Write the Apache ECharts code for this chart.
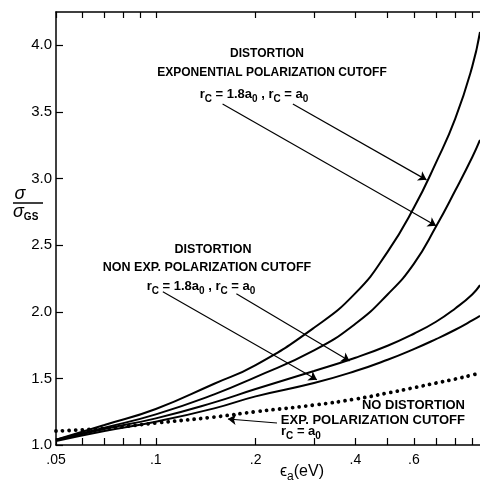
<!DOCTYPE html>
<html>
<head>
<meta charset="utf-8">
<script src="https://cdn.jsdelivr.net/npm/echarts@6/dist/echarts.min.js"></script>
<style>
  html, body { margin: 0; padding: 0; background: #fff; }
  #chart { width: 480px; height: 483px; }
</style>
</head>
<body>
<div id="chart"></div>
<script>
// photon energy (eV), log axis
const energy = [0.05, 0.07, 0.1, 0.15, 0.2, 0.3, 0.4, 0.5, 0.6, 0.7, 0.8, 0.9, 0.95];

// sigma / sigma_GS
const distExpA0 = [1.04, 1.15, 1.27, 1.46, 1.60, 1.88, 2.14, 2.45, 2.78, 3.12, 3.45, 3.84, 4.10];
const distExp18 = [1.04, 1.13, 1.23, 1.38, 1.51, 1.71, 1.91, 2.13, 2.36, 2.64, 2.91, 3.16, 3.29];
const distNonExpA0 = [1.035, 1.12, 1.20, 1.32, 1.42, 1.555, 1.655, 1.745, 1.835, 1.925, 2.025, 2.13, 2.20];
const distNonExp18 = [1.03, 1.105, 1.175, 1.275, 1.365, 1.465, 1.555, 1.64, 1.72, 1.795, 1.865, 1.935, 1.97];
const noDistExpA0 = [1.105, 1.125, 1.165, 1.21, 1.25, 1.30, 1.345, 1.39, 1.43, 1.465, 1.495, 1.525, 1.54];

const xLabelTicks = [0.05, 0.1, 0.2, 0.4, 0.6];
const xMinorTicks = [0.05, 0.06, 0.07, 0.08, 0.09, 0.1, 0.2, 0.3, 0.4, 0.5, 0.6, 0.7, 0.8, 0.9];
const yTicks = [1.0, 1.5, 2.0, 2.5, 3.0, 3.5, 4.0];

// arrows: [fromE, fromY, toE, toY]
const arrowExp18 = [0.159, 3.56, 0.70, 2.645];
const arrowExpA0 = [0.259, 3.56, 0.655, 2.99];
const arrowNonExp18 = [0.105, 2.15, 0.306, 1.49];
const arrowNonExpA0 = [0.175, 2.135, 0.384, 1.63];
const arrowNoDist = [0.232, 1.165, 0.165, 1.195];

const FONT = '"Liberation Sans", Arial, sans-serif';
const lg = Math.log10;
const toPts = ys => energy.map((e, i) => [lg(e), ys[i]]);

function arrow(a) {
  return {
    silent: true,
    symbol: ['none', 'arrow'],
    symbolSize: 8,
    label: { show: false },
    lineStyle: { color: '#000', width: 1.2, type: 'solid' },
    data: [[{ coord: [lg(a[0]), a[1]] }, { coord: [lg(a[2]), a[3]] }]],
  };
}

function solid(name, ys, a) {
  return {
    name, type: 'line', data: toPts(ys), smooth: 0.5,
    showSymbol: false, silent: true,
    lineStyle: { color: '#000', width: 2 },
    markLine: arrow(a),
  };
}

// subscript: the top padding pushes the small text down
function subStyle(size, bold) {
  return { fontSize: size, fontFamily: FONT, fontWeight: bold ? 'bold' : 'normal', padding: [10, 0, 0, 0], fill: '#000' };
}

function label(text, x, y, size, align) {
  size = size || 12;
  return {
    type: 'text', x, y, silent: true,
    style: {
      text, fill: '#000', fontSize: size, fontFamily: FONT, fontWeight: 'bold',
      align: align || 'center', textAlign: align || 'center',
      verticalAlign: 'middle', textVerticalAlign: 'middle',
      rich: { s: subStyle(size - 3, true) },
    },
  };
}

const axisLine = { show: true, onZero: false, lineStyle: { color: '#000', width: 1.5 } };
const xMin = lg(0.05), xMax = lg(0.95);
const xTickVals = xMinorTicks.map(lg);

const chart = echarts.init(document.getElementById('chart'));
chart.setOption({
  animation: false,
  backgroundColor: '#fff',
  grid: { left: 56, right: 0, top: 12, bottom: 38 },
  xAxis: [
    {
      type: 'value', min: xMin, max: xMax, position: 'bottom',
      axisLine,
      axisTick: { inside: true, length: 7, customValues: xTickVals, lineStyle: { color: '#000', width: 1.2 } },
      axisLabel: {
        customValues: xLabelTicks.map(lg), margin: 8,
        color: '#000', fontSize: 14, fontFamily: FONT,
        formatter: v => String(+Math.pow(10, v).toPrecision(3)).replace(/^0/, ''),
      },
      splitLine: { show: false },
    },
    {
      type: 'value', min: xMin, max: xMax, position: 'top',
      axisLine,
      axisTick: { inside: true, length: 6, customValues: xTickVals, lineStyle: { color: '#000', width: 1.2 } },
      axisLabel: { show: false },
      splitLine: { show: false },
    },
  ],
  yAxis: {
    type: 'value', min: 1, max: 4.25,
    axisLine,
    axisTick: { inside: true, length: 7, customValues: yTicks, lineStyle: { color: '#000', width: 1.2 } },
    axisLabel: {
      customValues: yTicks, margin: 4,
      color: '#000', fontSize: 15, fontFamily: FONT,
      formatter: v => v.toFixed(1),
    },
    splitLine: { show: false },
  },
  series: [
    solid('distExpA0', distExpA0, arrowExpA0),
    solid('distExp18', distExp18, arrowExp18),
    solid('distNonExpA0', distNonExpA0, arrowNonExpA0),
    solid('distNonExp18', distNonExp18, arrowNonExp18),
    {
      name: 'noDistExpA0', type: 'line', data: toPts(noDistExpA0), smooth: 0.5,
      showSymbol: false, silent: true,
      lineStyle: { color: '#000', width: 3.8, type: [0.01, 6.6], cap: 'round' },
      markLine: arrow(arrowNoDist),
    },
  ],
  graphic: [
    label('DISTORTION', 267, 54, 12),
    label('EXPONENTIAL POLARIZATION CUTOFF', 272, 73, 12),
    label('r{s|C} = 1.8a{s|0} , r{s|C} = a{s|0}', 254, 94, 13),
    label('DISTORTION', 213, 250, 12.5),
    label('NON EXP. POLARIZATION CUTOFF', 207, 268, 12.5),
    label('r{s|C} = 1.8a{s|0} , r{s|C} = a{s|0}', 201, 286, 13),
    label('NO DISTORTION', 465, 405, 13, 'right'),
    label('EXP. POLARIZATION CUTOFF', 465, 420, 13, 'right'),
    label('r{s|C} = a{s|0}', 281, 431, 13, 'left'),
    {
      type: 'text', x: 302, y: 472, silent: true,
      style: {
        text: 'ϵ{a|a}(eV)', fill: '#000', fontSize: 16, fontFamily: FONT,
        align: 'center', textAlign: 'center', verticalAlign: 'middle', textVerticalAlign: 'middle',
        rich: { a: subStyle(12, false) },
      },
    },
    {
      type: 'text', x: 20, y: 194, silent: true,
      style: {
        text: 'σ', fill: '#000', fontSize: 18, fontFamily: FONT, fontStyle: 'italic',
        align: 'center', textAlign: 'center', verticalAlign: 'middle', textVerticalAlign: 'middle',
      },
    },
    {
      type: 'line', silent: true,
      shape: { x1: 13, y1: 203, x2: 43, y2: 203 },
      style: { stroke: '#000', lineWidth: 1.5 },
    },
    {
      type: 'text', x: 13, y: 212, silent: true,
      style: {
        text: 'σ{g|GS}', fill: '#000', fontSize: 18, fontFamily: FONT, fontStyle: 'italic',
        align: 'left', textAlign: 'left', verticalAlign: 'middle', textVerticalAlign: 'middle',
        rich: { g: subStyle(10, true) },
      },
    },
  ],
});
</script>
</body>
</html>
